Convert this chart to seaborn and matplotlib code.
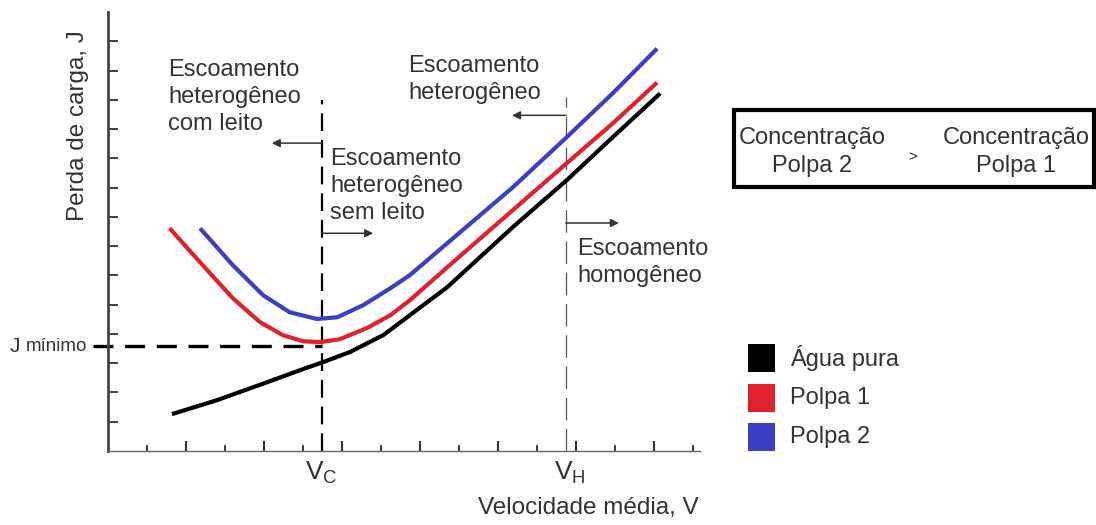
import numpy as np
import pandas as pd
import matplotlib
matplotlib.use("Agg")
import matplotlib.pyplot as plt
from matplotlib.patches import Rectangle
import seaborn as sns

# ---- data (x in axis units: 1 unit per major tick, y: 1 unit per tick) ----
agua_x = [0.82, 1.40, 2.04, 2.46, 2.76, 3.10, 3.53, 3.87, 4.35, 5.19, 5.88, 6.47, 7.08]
agua_y = [1.26, 1.74, 2.35, 2.76, 3.04, 3.38, 3.96, 4.64, 5.60, 7.65, 9.25, 10.72, 12.22]

polpa1_x = [0.79, 1.18, 1.60, 1.95, 2.24, 2.50, 2.72, 2.97, 3.32, 3.62, 3.87, 4.35, 5.19, 5.88, 6.47, 7.04]
polpa1_y = [7.61, 6.45, 5.22, 4.40, 3.96, 3.75, 3.72, 3.82, 4.20, 4.64, 5.15, 6.28, 8.23, 9.83, 11.19, 12.59]

polpa2_x = [1.18, 1.60, 1.99, 2.33, 2.68, 2.94, 3.27, 3.62, 3.87, 4.35, 5.19, 5.88, 6.47, 7.04]
polpa2_y = [7.61, 6.35, 5.32, 4.74, 4.51, 4.57, 4.98, 5.56, 6.01, 7.10, 9.01, 10.72, 12.22, 13.75]

series_names = ["Água pura", "Polpa 1", "Polpa 2"]
series_colors = ["#000000", "#e0202c", "#3b3fc4"]

v_c = 2.74
v_h = 5.87
j_min = 3.58

x_major = [1, 2, 3, 4, 5, 6, 7]
x_minor = [0.5, 1.5, 2.5, 3.5, 4.5, 5.5, 6.5, 7.5]
y_ticks = list(range(1, 15))

# ---- style ----
sns.set_style("ticks")
plt.rcParams["font.family"] = ["Liberation Sans", "DejaVu Sans"]
TXT = "#333333"

W, H = 1096, 525
fig = plt.figure(figsize=(W / 100, H / 100), dpi=100)
ax = fig.add_axes([108 / W, 1 - 451 / H, (700 - 108) / W, (451 - 12) / H])

df = pd.concat([
    pd.DataFrame({"V": agua_x, "J": agua_y, "serie": series_names[0]}),
    pd.DataFrame({"V": polpa1_x, "J": polpa1_y, "serie": series_names[1]}),
    pd.DataFrame({"V": polpa2_x, "J": polpa2_y, "serie": series_names[2]}),
])
sns.lineplot(data=df, x="V", y="J", hue="serie", palette=series_colors,
             sort=False, lw=3.0, legend=False, ax=ax)
for ln in ax.get_lines():
    ln.set_solid_joinstyle("round")
    ln.set_solid_capstyle("butt")

ax.set_xlim(0, 7.59)
ax.set_ylim(0, 15)
ax.set_xticks(x_major)
ax.set_xticks(x_minor, minor=True)
ax.set_yticks(y_ticks)
ax.set_xticklabels([])
ax.set_yticklabels([])
ax.tick_params(axis="x", which="major", direction="in", length=7, width=1.5, color="#333")
ax.tick_params(axis="x", which="minor", direction="in", length=4, width=1.3, color="#333")
ax.tick_params(axis="y", which="major", direction="in", length=7, width=1.3, color="#333")
sns.despine(ax=ax)
ax.spines["left"].set_color("#444")
ax.spines["left"].set_linewidth(2.0)
ax.spines["bottom"].set_color("#666")
ax.spines["bottom"].set_linewidth(1.0)
ax.set_xlabel("")
ax.set_ylabel("")

# vertical reference lines
ax.plot([v_c, v_c], [0, 11.98], color="black", lw=1.6, dashes=(8, 4), zorder=1)
ax.plot([v_h, v_h], [0, 12.08], color="#555", lw=0.9, dashes=(18, 7), zorder=1)
# J minimo
ax.plot([-0.19, v_c], [j_min, j_min], color="black", lw=2.4, dashes=(6, 3.5),
        clip_on=False, zorder=1)
ax.text(-1.19, j_min, "J", fontsize=15, color=TXT, ha="center", va="center", clip_on=False)
ax.text(-1.05, j_min, "mínimo", fontsize=13.5, color=TXT, ha="left", va="center", clip_on=False)

# arrows
arr = dict(arrowstyle="-|>", color="#333", lw=1.1, mutation_scale=12, shrinkA=0, shrinkB=0)
ax.annotate("", xy=(2.10, 10.52), xytext=(v_c, 10.52), arrowprops=arr)
ax.annotate("", xy=(3.40, 7.44), xytext=(v_c, 7.44), arrowprops=arr)
ax.annotate("", xy=(5.18, 11.47), xytext=(v_h, 11.47), arrowprops=arr)
ax.annotate("", xy=(6.55, 7.79), xytext=(v_h, 7.79), arrowprops=arr)

# annotations
fs = 17
ls = 1.3
ax.text(0.77, 13.4, "Escoamento\nheterogêneo\ncom leito", fontsize=fs, color=TXT,
        ha="left", va="top", linespacing=ls)
ax.text(2.85, 10.35, "Escoamento\nheterogêneo\nsem leito", fontsize=fs, color=TXT,
        ha="left", va="top", linespacing=ls)
ax.text(3.85, 13.53, "Escoamento\nheterogêneo", fontsize=fs, color=TXT,
        ha="left", va="top", linespacing=ls)
ax.text(6.02, 7.28, "Escoamento\nhomogêneo", fontsize=fs, color=TXT,
        ha="left", va="top", linespacing=ls)

ax.text(v_c, -0.75, r"$\mathregular{V_C}$", fontsize=19, color=TXT, ha="center", va="center",
        clip_on=False)
ax.text(v_h + 0.05, -0.75, r"$\mathregular{V_H}$", fontsize=19, color=TXT, ha="center", va="center",
        clip_on=False)
fig.text(699 / W, 1 - 508 / H, "Velocidade média, V", fontsize=17.5, color=TXT,
         ha="right", va="center")
fig.text(78 / W, 1 - 126 / H, "Perda de carga, J", fontsize=17.5, color=TXT,
         ha="center", va="center", rotation=90)

# concentration box
fig.add_artist(Rectangle((734 / W, 1 - 187 / H), (1094 - 734) / W, (187 - 110) / H,
                         transform=fig.transFigure, fill=False, lw=3, ec="black"))
fig.text(812 / W, 1 - 152 / H, "Concentração\nPolpa 2", fontsize=17, color=TXT,
         ha="center", va="center", linespacing=1.35)
fig.text(913 / W, 1 - 157 / H, ">", fontsize=11, color=TXT, ha="center", va="center")
fig.text(1016 / W, 1 - 152 / H, "Concentração\nPolpa 1", fontsize=17, color=TXT,
         ha="center", va="center", linespacing=1.35)

# legend
leg_y = [358, 398, 437]
for name, col, yc in zip(series_names, series_colors, leg_y):
    fig.add_artist(Rectangle((748 / W, 1 - (yc + 14) / H), 27 / W, 28 / H,
                             transform=fig.transFigure, color=col, lw=0))
    fig.text(790 / W, 1 - yc / H, name, fontsize=17, color=TXT, ha="left", va="center")

fig.savefig("out.png", dpi=100)
